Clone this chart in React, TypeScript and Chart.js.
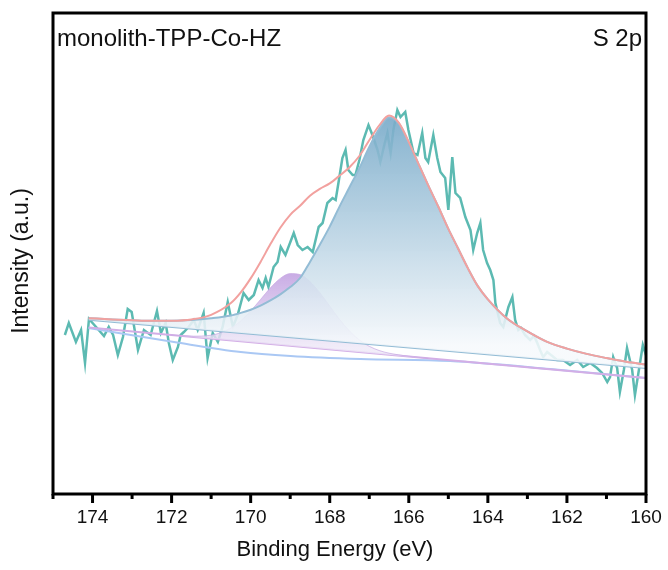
import React, { useEffect, useRef } from 'react';
import { Chart, registerables } from 'chart.js';

Chart.register(...registerables);

// ---- raw spectrum (binding energy, intensity a.u.) ----
const rawEnergy = [
  174.70, 174.60, 174.42, 174.29, 174.19, 174.09, 173.91, 173.71, 173.59, 173.48,
  173.36, 173.23, 173.11, 173.01, 172.85, 172.70, 172.53, 172.37, 172.27, 172.15,
  172.07, 171.97, 171.84, 171.77, 171.69, 171.57, 171.44, 171.34, 171.19, 171.09,
  170.96, 170.83, 170.71, 170.58, 170.45, 170.33, 170.18, 170.05, 169.92, 169.80,
  169.70, 169.62, 169.55, 169.42, 169.32, 169.24, 169.12, 168.91, 168.81, 168.69,
  168.56, 168.43, 168.28, 168.18, 168.06, 167.93, 167.85, 167.78, 167.68, 167.60,
  167.53, 167.42, 167.35, 167.25, 167.15, 167.02, 166.92, 166.79, 166.72, 166.62,
  166.54, 166.46, 166.39, 166.29, 166.21, 166.09, 166.01, 165.88, 165.78, 165.66,
  165.58, 165.51, 165.38, 165.28, 165.20, 165.08, 165.00, 164.90, 164.82, 164.70,
  164.57, 164.44, 164.37, 164.27, 164.19, 164.12, 164.02, 163.94, 163.86, 163.81,
  163.69, 163.61, 163.48, 163.38, 163.31, 163.23, 163.16, 163.06, 162.93, 162.83,
  162.75, 162.68, 162.60, 162.50, 162.37, 162.25, 162.10, 161.92, 161.74, 161.59,
  161.41, 161.24, 161.11, 160.98, 160.91, 160.83, 160.73, 160.66, 160.56, 160.48,
  160.35, 160.28, 160.18, 160.08, 160.00,
];
const rawCounts = [
  159, 171, 152, 164, 131, 175, 167, 158, 167, 159,
  139, 157, 185, 182, 144, 164, 159, 183, 161, 171,
  151, 134, 147, 159, 162, 167, 174, 164, 181, 136,
  161, 152, 167, 192, 167, 179, 201, 194, 199, 214,
  206, 216, 207, 227, 232, 247, 239, 261, 249, 244,
  247, 242, 267, 271, 291, 296, 294, 311, 336, 344,
  324, 319, 319, 334, 354, 369, 359, 344, 332, 349,
  361, 341, 364, 384, 377, 382, 364, 341, 339, 361,
  336, 332, 359, 336, 322, 316, 284, 337, 301, 296,
  277, 264, 244, 261, 271, 244, 231, 224, 214, 191,
  171, 167, 187, 197, 174, 164, 166, 159, 154, 158,
  151, 144, 137, 142, 138, 134, 134, 129, 134, 127,
  131, 126, 121, 112, 117, 137, 126, 102, 124, 146,
  124, 99, 124, 149, 139,
];

// ---- fitted components ----
const fitEnergy = [
  174.1, 173.5, 173, 172.5, 172, 171.5, 171, 170.5, 170.25, 170,
  169.75, 169.5, 169.25, 169, 168.75, 168.5, 168.25, 168, 167.75, 167.5,
  167.25, 167, 166.75, 166.5, 166.25, 166, 165.75, 165.5, 165.25, 165,
  164.75, 164.5, 164.25, 164, 163.5, 163, 162.5, 162, 161.5, 161,
  160.5, 160,
];
const mainPeak = [
  175.8, 174.6, 173.8, 173.2, 173.2, 173.9, 175.7, 178.5, 181.1, 184.3,
  188.4, 193.6, 199.7, 206.9, 216.0, 232.1, 249.3, 267.4, 287.6, 306.7,
  325.9, 347.0, 365.1, 376.8, 370.4, 351.6, 329.7, 307.9, 287.0, 265.1,
  245.3, 225.4, 207.6, 194.7, 175.0, 162.6, 152.1, 145.4, 140.1, 135.9,
  132.2, 129.5,
];
const envelope = [
  175.8, 174.6, 173.8, 173.2, 173.3, 174.6, 179.2, 190.9, 201.6, 215.6,
  232.1, 249.9, 266.3, 279.2, 288.2, 298.3, 305.1, 310.6, 318.4, 326.8,
  338.0, 353.7, 368.5, 378.4, 371.1, 351.9, 329.7, 307.9, 287.0, 265.1,
  245.3, 225.4, 207.6, 194.7, 175.0, 162.6, 152.1, 145.4, 140.1, 135.9,
  132.2, 129.5,
];
const sidePeakEnergy = [
  172, 171.5, 171, 170.5, 170.25, 170, 169.75, 169.5, 169.25, 169,
  168.75, 168.5, 168.25, 168, 167.75, 167.5, 167.25, 167, 166.75, 166.5,
  166, 165.5,
];
const sidePeak = [
  159.0, 157.8, 158.8, 165.9, 173.1, 183.0, 194.5, 206.2, 215.6, 220.4,
  219.4, 212.5, 201.2, 187.8, 174.5, 162.9, 154.0, 147.7, 143.5, 140.8,
  137.7, 135.6,
];
const bgMainEnergy = [174.1, 160];
const bgMain = [174.3, 126];
const bgSideEnergy = [174.1, 160];
const bgSide = [166.4, 116];
const bgCurveEnergy = [174.1, 171.94, 170.25, 168.99, 167.22, 164.95, 162.42, 160];
const bgCurve = [166, 152, 142, 138, 135, 133, 125, 116];

const majorTicks = [174, 172, 170, 168, 166, 164, 162, 160];
const minorTicks = [175, 173, 171, 169, 167, 165, 163, 161];

const sampleLabel = 'monolith-TPP-Co-HZ';
const regionLabel = 'S 2p';
const yTitle = 'Intensity (a.u.)';
const xTitle = 'Binding Energy (eV)';

const FONT = '"Liberation Sans", Arial, sans-serif';

const pts = (xs: number[], ys: number[]) => xs.map((x, i) => ({ x, y: ys[i] }));

const framePlugin = {
  id: 'frameAndTicks',
  afterDraw(chart: any) {
    const { ctx, chartArea: a, scales } = chart;
    const xs = scales.x;
    ctx.save();
    ctx.strokeStyle = '#000';
    ctx.lineWidth = 3;
    ctx.strokeRect(a.left, a.top, a.right - a.left, a.bottom - a.top);
    ctx.lineCap = 'butt';
    for (const v of majorTicks) {
      const px = xs.getPixelForValue(v);
      ctx.beginPath();
      ctx.moveTo(px, a.bottom);
      ctx.lineTo(px, a.bottom + 9);
      ctx.stroke();
    }
    for (const v of minorTicks) {
      const px = xs.getPixelForValue(v);
      ctx.beginPath();
      ctx.moveTo(px, a.bottom);
      ctx.lineTo(px, a.bottom + 5);
      ctx.stroke();
    }
    ctx.fillStyle = '#111';
    ctx.font = `24px ${FONT}`;
    ctx.textBaseline = 'alphabetic';
    ctx.textAlign = 'left';
    ctx.fillText(sampleLabel, a.left + 4, a.top + 33);
    ctx.textAlign = 'right';
    ctx.fillText(regionLabel, a.right - 4, a.top + 33);
    // x axis title
    ctx.textAlign = 'center';
    ctx.textBaseline = 'middle';
    ctx.font = `22px ${FONT}`;
    ctx.fillText(xTitle, 335, 550);
    // y axis title
    ctx.translate(22, 261);
    ctx.rotate(-Math.PI / 2);
    ctx.font = `23px ${FONT}`;
    ctx.fillText(yTitle, 0, 0);
    ctx.restore();
  },
};

function vGradient(chart: any, topVal: number, botVal: number, top: string, bot: string) {
  const { ctx, chartArea, scales } = chart;
  if (!chartArea) return top;
  const g = ctx.createLinearGradient(0, scales.y.getPixelForValue(topVal), 0, scales.y.getPixelForValue(botVal));
  g.addColorStop(0, top);
  g.addColorStop(1, bot);
  return g;
}

export default function App() {
  const ref = useRef<HTMLCanvasElement>(null);
  useEffect(() => {
    if (!ref.current) return;
    const chart = new Chart(ref.current, {
      type: 'line',
      data: {
        datasets: [
          {
            label: 'raw',
            data: pts(rawEnergy, rawCounts),
            borderColor: '#5cbab2',
            borderWidth: 2.5,
            pointRadius: 0,
            tension: 0,
            fill: false,
            order: 6,
          },
          {
            label: 'bgCurve',
            data: pts(bgCurveEnergy, bgCurve),
            borderColor: '#aac8f4',
            borderWidth: 2,
            pointRadius: 0,
            cubicInterpolationMode: 'monotone',
            fill: false,
            order: 5,
          },
          {
            label: 'bgSide',
            data: pts(bgSideEnergy, bgSide),
            borderColor: '#d3aee6',
            borderWidth: 2,
            pointRadius: 0,
            fill: false,
            order: 4,
          },
          {
            label: 'sidePeak',
            data: pts(sidePeakEnergy, sidePeak),
            borderColor: 'rgba(200,168,226,0.7)',
            borderWidth: 1,
            pointRadius: 0,
            cubicInterpolationMode: 'monotone',
            fill: { target: 2 },
            backgroundColor: (c: any) =>
              vGradient(c.chart, 221, 146, 'rgba(196,164,226,0.92)', 'rgba(238,232,247,0.8)'),
            order: 3,
          },
          {
            label: 'bgMain',
            data: pts(bgMainEnergy, bgMain),
            borderColor: '#93bcd5',
            borderWidth: 2,
            pointRadius: 0,
            fill: false,
            order: 2,
          },
          {
            label: 'mainPeak',
            data: pts(fitEnergy, mainPeak),
            borderColor: '#93bcd5',
            borderWidth: 2,
            pointRadius: 0,
            cubicInterpolationMode: 'monotone',
            fill: { target: 4 },
            backgroundColor: (c: any) =>
              vGradient(c.chart, 377, 148, 'rgba(120,170,201,0.9)', 'rgba(246,249,252,0.88)'),
            order: 1,
          },
          {
            label: 'envelope',
            data: pts(fitEnergy, envelope),
            borderColor: '#f2a19f',
            borderWidth: 2,
            pointRadius: 0,
            cubicInterpolationMode: 'monotone',
            fill: false,
            order: 0,
          },
        ],
      },
      options: {
        responsive: false,
        animation: false,
        devicePixelRatio: 1,
        layout: { padding: { top: 13, right: 22, left: 0, bottom: 0 } },
        plugins: { legend: { display: false }, tooltip: { enabled: false } },
        scales: {
          x: {
            type: 'linear',
            reverse: true,
            min: 160,
            max: 175,
            grid: { display: false, drawTicks: false },
            border: { display: false },
            ticks: {
              stepSize: 2,
              includeBounds: false,
              autoSkip: false,
              maxRotation: 0,
              padding: 12,
              color: '#111',
              font: { family: FONT, size: 19 },
            },
            title: { display: false },
            afterFit: (s: any) => {
              s.height = 76;
              s.paddingLeft = 0;
              s.paddingRight = 0;
            },
          },
          y: {
            type: 'linear',
            min: 0,
            max: 481,
            grid: { display: false, drawTicks: false },
            border: { display: false },
            ticks: { display: false },
            title: { display: false },
            afterFit: (s: any) => {
              s.width = 53;
              s.paddingTop = 0;
              s.paddingBottom = 0;
            },
          },
        },
      },
      plugins: [framePlugin],
    } as any);
    return () => chart.destroy();
  }, []);
  return (
    <div style={{ position: 'absolute', left: 0, top: 0, width: 668, height: 570, background: '#fff' }}>
      <canvas ref={ref} width={668} height={570} style={{ width: 668, height: 570, display: 'block' }} />
    </div>
  );
}
